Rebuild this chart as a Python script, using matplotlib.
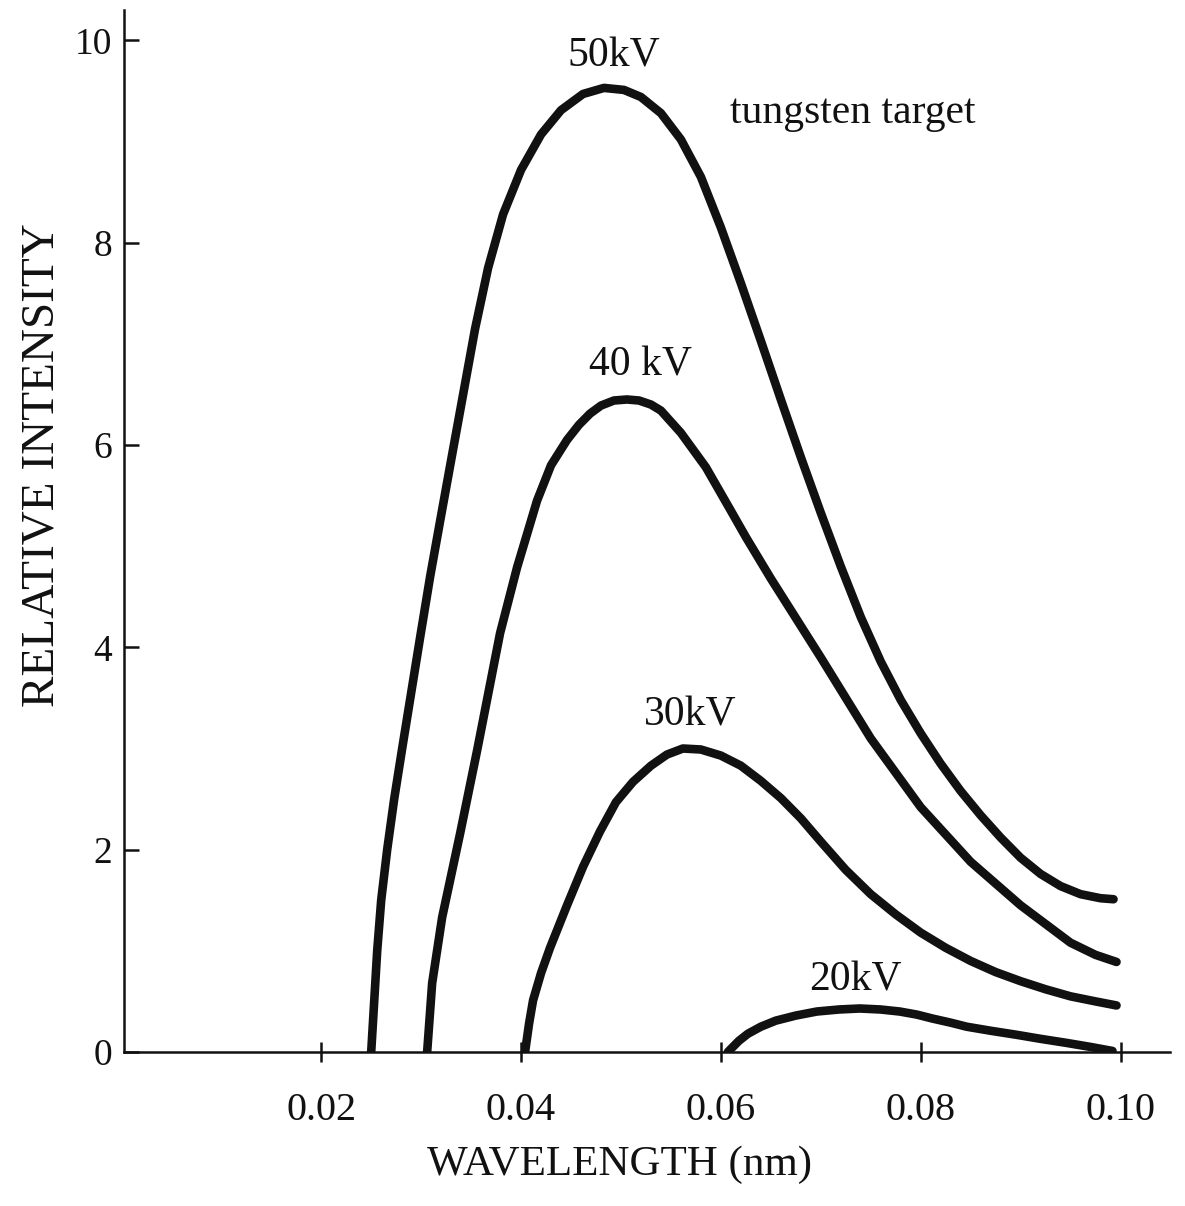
import matplotlib
matplotlib.use("Agg")
import matplotlib.pyplot as plt

plt.rcParams['font.family'] = ['Liberation Serif', 'DejaVu Serif']

# continuous x-ray spectra, tungsten target
x50 = [0.0250, 0.0253, 0.0256, 0.0260, 0.0266, 0.0273, 0.0281, 0.0290, 0.0299, 0.0309,
       0.0319, 0.0330, 0.0342, 0.0354, 0.0367, 0.0382, 0.0400, 0.0420, 0.0440, 0.0462,
       0.0483, 0.0503, 0.0520, 0.0540, 0.0560, 0.0580, 0.0600, 0.0620, 0.0640, 0.0660,
       0.0680, 0.0700, 0.0720, 0.0740, 0.0760, 0.0780, 0.0800, 0.0820, 0.0840, 0.0860,
       0.0880, 0.0900, 0.0920, 0.0940, 0.0960, 0.0980, 0.0993]
y50 = [0.0, 0.50, 1.00, 1.50, 2.00, 2.50, 3.00, 3.55, 4.10, 4.70,
       5.25, 5.85, 6.50, 7.15, 7.75, 8.28, 8.72, 9.07, 9.31, 9.47,
       9.53, 9.51, 9.44, 9.28, 9.02, 8.65, 8.15, 7.60, 7.03, 6.45,
       5.88, 5.33, 4.80, 4.30, 3.86, 3.48, 3.15, 2.85, 2.58, 2.34,
       2.12, 1.92, 1.76, 1.64, 1.56, 1.52, 1.51]

x40 = [0.0306, 0.0311, 0.0321, 0.0339, 0.0356, 0.0379, 0.0396, 0.0416, 0.0430, 0.0446,
       0.0458, 0.0469, 0.0480, 0.0493, 0.0506, 0.0518, 0.0530, 0.0540, 0.0560, 0.0585,
       0.0610, 0.0625, 0.0650, 0.0675, 0.0700, 0.0750, 0.0800, 0.0850, 0.0900, 0.0950,
       0.0975, 0.0996]
y40 = [0.0, 0.68, 1.33, 2.16, 2.98, 4.14, 4.79, 5.45, 5.80, 6.05,
       6.20, 6.31, 6.39, 6.44, 6.45, 6.44, 6.40, 6.34, 6.12, 5.78,
       5.35, 5.09, 4.68, 4.29, 3.90, 3.10, 2.42, 1.88, 1.45, 1.08,
       0.96, 0.89]

x30 = [0.0404, 0.0408, 0.0412, 0.0420, 0.0429, 0.0446, 0.0462, 0.0479, 0.0495, 0.0512,
       0.0530, 0.0546, 0.0562, 0.0580, 0.0600, 0.0620, 0.0640, 0.0660, 0.0680, 0.0700,
       0.0725, 0.0750, 0.0775, 0.0800, 0.0825, 0.0850, 0.0875, 0.0900, 0.0925, 0.0950,
       0.0975, 0.0996]
y30 = [0.0, 0.28, 0.51, 0.78, 1.03, 1.45, 1.83, 2.18, 2.47, 2.67,
       2.83, 2.94, 3.00, 2.99, 2.93, 2.83, 2.68, 2.51, 2.31, 2.08,
       1.80, 1.56, 1.36, 1.18, 1.03, 0.90, 0.79, 0.70, 0.62, 0.55,
       0.50, 0.46]

x20 = [0.0607, 0.0612, 0.0618, 0.0627, 0.0640, 0.0655, 0.0675, 0.0696, 0.0718, 0.0739,
       0.0760, 0.0779, 0.0796, 0.0812, 0.0830, 0.0846, 0.0870, 0.0896, 0.0920, 0.0946,
       0.0970, 0.0992]
y20 = [0.0, 0.05, 0.11, 0.18, 0.25, 0.31, 0.36, 0.40, 0.42, 0.43,
       0.42, 0.40, 0.37, 0.33, 0.29, 0.25, 0.21, 0.17, 0.13, 0.09,
       0.05, 0.01]

xticks = [0.02, 0.04, 0.06, 0.08, 0.10]
xticklabels = ['0.02', '0.04', '0.06', '0.08', '0.10']
yticks = [0, 2, 4, 6, 8, 10]
yticklabels = ['0', '2', '4', '6', '8', '10']

fig = plt.figure(figsize=(11.85, 12.06), dpi=100)
ax = fig.add_axes([0.105, 0.1277, 0.8824, 0.864])

ink = '#111111'
for xs, ys in [(x50, y50), (x40, y40), (x30, y30), (x20, y20)]:
    ax.plot(xs, ys, color=ink, lw=6.2, solid_capstyle='round', solid_joinstyle='round')

ax.set_xlim(0.0003, 0.10496)
ax.set_ylim(0, 10.3)

for s in ['top', 'right']:
    ax.spines[s].set_visible(False)
for s in ['left', 'bottom']:
    ax.spines[s].set_linewidth(1.8)
    ax.spines[s].set_color(ink)

ax.set_xticks(xticks)
ax.set_xticklabels(xticklabels)
ax.set_yticks(yticks)
ax.set_yticklabels(yticklabels)
ax.tick_params(axis='x', direction='inout', length=15, width=1.8, pad=21,
               labelsize=29, colors=ink)
ax.tick_params(axis='y', direction='in', length=11, width=1.8, pad=9,
               labelsize=27, colors=ink)

ax.text(0.0493, 9.74, '50kV', fontsize=30, ha='center', va='baseline', color=ink)
ax.text(0.0520, 6.69, '40 kV', fontsize=30, ha='center', va='baseline', color=ink)
ax.text(0.0569, 3.23, '30kV', fontsize=30, ha='center', va='baseline', color=ink)
ax.text(0.0735, 0.61, '20kV', fontsize=30, ha='center', va='baseline', color=ink)
ax.text(0.0609, 9.18, 'tungsten target', fontsize=30, ha='left', va='baseline', color=ink)

fig.text(0.523, 0.034, 'WAVELENGTH (nm)', fontsize=31, ha='center', va='center', color=ink)
fig.text(0.0354, 0.614, 'RELATIVE INTENSITY', fontsize=34, rotation=90,
         ha='center', va='center', color=ink)

fig.savefig('out.png', dpi=100, facecolor='white')
